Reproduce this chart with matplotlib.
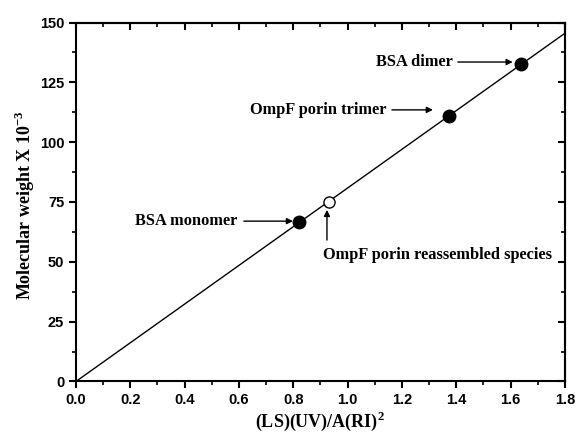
import matplotlib.pyplot as plt
import numpy as np

plt.rcParams['mathtext.fontset'] = 'custom'
plt.rcParams['mathtext.rm'] = 'Liberation Serif:bold'
plt.rcParams['mathtext.bf'] = 'Liberation Serif:bold'

# calibration points: (LS)(UV)/A(RI)^2 vs molecular weight (kDa)
ratio = [0.822, 0.930, 1.373, 1.638]
mw = [66.5, 75.0, 111.0, 132.5]
filled = [True, False, True, True]
names = ['BSA monomer', 'OmpF porin reassembled species',
         'OmpF porin trimer', 'BSA dimer']

x = np.array(ratio)
y = np.array(mw)
slope = np.sum(x * y) / np.sum(x * x)  # least squares through origin

fig = plt.figure(figsize=(5.77, 4.42), dpi=100)
ax = fig.add_axes([0.1317, 0.137, 0.8473, 0.812])

xs = np.array([0.0, 1.8])
ax.plot(xs, slope * xs, color='black', lw=1.0, zorder=2)

for xi, yi, f in zip(x, y, filled):
    if f:
        ax.plot(xi, yi, 'o', ms=9, mfc='black', mec='black', zorder=3)
    else:
        ax.plot(xi, yi, 'o', ms=8, mfc='white', mec='black', mew=1.0, zorder=3)

serif = dict(family='Liberation Serif', weight='bold', fontsize=11.8)
arrow = dict(arrowstyle='-|>', color='black', lw=1.0, mutation_scale=9,
             shrinkA=0, shrinkB=0)

# horizontal arrows for the three filled points
for i, (tx, ty, ax0, ax1) in zip([0, 2, 3], [(0.596, 67.0, 0.618, 0.799),
                                             (1.145, 113.5, 1.163, 1.314),
                                             (1.388, 133.5, 1.406, 1.608)]):
    ax.text(tx, ty, names[i], ha='right', va='center', **serif)
    ax.annotate('', xy=(ax1, ty), xytext=(ax0, ty), arrowprops=arrow)

# vertical arrow for the reassembled species
ax.annotate('', xy=(0.924, 71.7), xytext=(0.924, 59.1), arrowprops=arrow)
ax.text(0.909, 52.9, names[1], ha='left', va='center', **serif)

ax.set_xlim(0, 1.8)
ax.set_ylim(0, 150)
ax.set_xticks(np.arange(0, 1.81, 0.2))
ax.set_xticks(np.arange(0.1, 1.8, 0.2), minor=True)
ax.set_yticks(np.arange(0, 151, 25))
ax.set_yticks(np.arange(12.5, 150, 25), minor=True)
ax.set_xticklabels(['%.1f' % v for v in np.arange(0, 1.81, 0.2)])

ax.tick_params(which='major', direction='out', length=5, width=1.5)
ax.tick_params(which='minor', direction='out', length=3, width=1.2)
for lab in ax.get_xticklabels() + ax.get_yticklabels():
    lab.set_family('Liberation Sans')
    lab.set_weight('bold')
    lab.set_fontsize(10.5)

# inward ticks on top and right
top = ax.secondary_xaxis('top')
top.set_xticks(np.arange(0, 1.81, 0.2))
top.set_xticks(np.arange(0.1, 1.8, 0.2), minor=True)
top.tick_params(which='major', direction='in', length=5, width=1.5, labeltop=False)
top.tick_params(which='minor', direction='in', length=3, width=1.2)
right = ax.secondary_yaxis('right')
right.set_yticks(np.arange(0, 151, 25))
right.set_yticks(np.arange(12.5, 150, 25), minor=True)
right.tick_params(which='major', direction='in', length=5, width=1.5, labelright=False)
right.tick_params(which='minor', direction='in', length=3, width=1.2)
for a in (ax, top, right):
    for s in a.spines.values():
        s.set_linewidth(1.5)

label_font = dict(family='Liberation Serif', weight='bold', fontsize=13)
ax.set_xlabel('(LS)(UV)/A(RI)$^{2}$', **label_font, va='top')
ax.xaxis.set_label_coords(0.5, -0.079)
ax.set_ylabel('Molecular weight X 10$^{-3}$', **label_font)
ax.yaxis.set_label_coords(-0.080, 0.492)

fig.savefig('out.png', dpi=100)
